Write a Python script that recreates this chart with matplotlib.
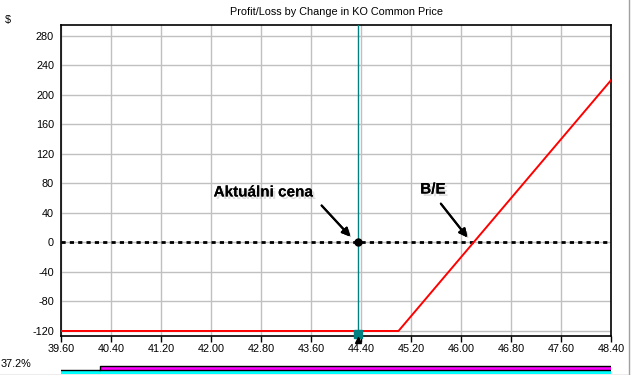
import matplotlib
matplotlib.use("Agg")
from matplotlib import pyplot as plt
from matplotlib import patheffects as pe
import numpy as np

# data
prices = [39.60, 45.00, 48.40]
pnl = [-120, -120, 220]
current_price = 44.35
breakeven = 46.20
xticks = [39.60, 40.40, 41.20, 42.00, 42.80, 43.60, 44.40, 45.20, 46.00, 46.80, 47.60, 48.40]
yticks = [-120, -80, -40, 0, 40, 80, 120, 160, 200, 240, 280]
prob_label = "37.2%"
prob_start = 40.22

plt.rcParams['font.family'] = ['Liberation Sans', 'DejaVu Sans']

fig = plt.figure(figsize=(6.38, 3.75), dpi=100)
fig.patch.set_facecolor('white')
ax = fig.add_axes([61/638, 1-336/375, 550/638, 311/375])

ax.set_xlim(39.6, 48.4)
ax.set_ylim(-126.8, 294.9)
ax.set_xticks(xticks)
ax.set_xticklabels(["%.2f" % t for t in xticks], fontsize=7.8)
ax.set_yticks(yticks)
ax.set_yticklabels([str(t) for t in yticks], fontsize=7.8)
ax.tick_params(axis='y', length=0, pad=5)
ax.tick_params(axis='x', length=4, width=1, pad=2, direction='out')
ax.grid(True, color='#c0c0c0', lw=1)
ax.set_axisbelow(True)
for s in ax.spines.values():
    s.set_color('black')
    s.set_linewidth(1.2)

fig.text(336/638, 1-12/375, "Profit/Loss by Change in KO Common Price", fontsize=7.8,
         ha='center', va='center')
fig.text(5/638, 1-20/375, "$", fontsize=7.8, va='center')

# zero line
ax.axhline(0, color='black', lw=2, ls=(0, (1.5, 1.5)), zorder=3)

# current price marker line
ax.axvline(current_price, color='#008080', lw=1, zorder=3)

# P/L line
ax.plot(prices, pnl, color='red', lw=1.4, zorder=4)

ax.plot([current_price], [0], 'o', color='black', ms=5, zorder=6)
ax.plot([current_price], [0.008], 's', color='#008080', ms=6, zorder=6,
        transform=ax.get_xaxis_transform(), clip_on=False)
ax.plot([current_price], [-0.013], '^', color='black', ms=5, zorder=6,
        transform=ax.get_xaxis_transform(), clip_on=False)

shadow = [pe.withSimplePatchShadow(offset=(1.8, -1.8), shadow_rgbFace='gray', alpha=0.25), pe.Normal()]
ax.text(42.84, 62.4, "Aktuálni cena", fontsize=11, fontweight='bold',
        ha='center', va='baseline', path_effects=shadow, zorder=7)
ax.text(45.55, 66.4, "B/E", fontsize=11, fontweight='bold',
        ha='center', va='baseline', path_effects=shadow, zorder=7)
arrow = dict(arrowstyle='-|>', color='black', lw=1.5, mutation_scale=12,
             path_effects=[pe.withSimplePatchShadow(offset=(1.8, -1.8), alpha=0.25), pe.Normal()])
ax.annotate("", xy=(44.26, 5.3), xytext=(43.74, 52.9), arrowprops=arrow, zorder=7)
ax.annotate("", xy=(46.13, 4), xytext=(45.65, 55.6), arrowprops=arrow, zorder=7)

# probability strip at the bottom
bx = fig.add_axes([61/638, 1/375, 550/638, 9/375])
bx.set_xlim(39.6, 48.4)
bx.set_ylim(0, 9)
bx.axis('off')
bx.fill_between([39.6, 48.4], 0, 3.5, color='#00ffff', lw=0)
bx.fill_between([prob_start, 48.4], 4.5, 7.5, color='#ff00ff', lw=0)
bx.plot([39.6, prob_start, prob_start, 48.4], [4, 4, 8, 8], color='black', lw=1)
bx.plot([prob_start, 48.4], [4, 4], color='black', lw=1)
fig.text(1/638, 1-364/375, prob_label, fontsize=7.8, va='center')

# window borders
fig.add_artist(plt.Line2D([629/638, 629/638], [1/375, 1], color='#a0a0a0', lw=1))
fig.add_artist(plt.Line2D([0, 629/638], [0.5/375, 0.5/375], color='#a0a0a0', lw=1))

fig.savefig("out.png", dpi=100)
